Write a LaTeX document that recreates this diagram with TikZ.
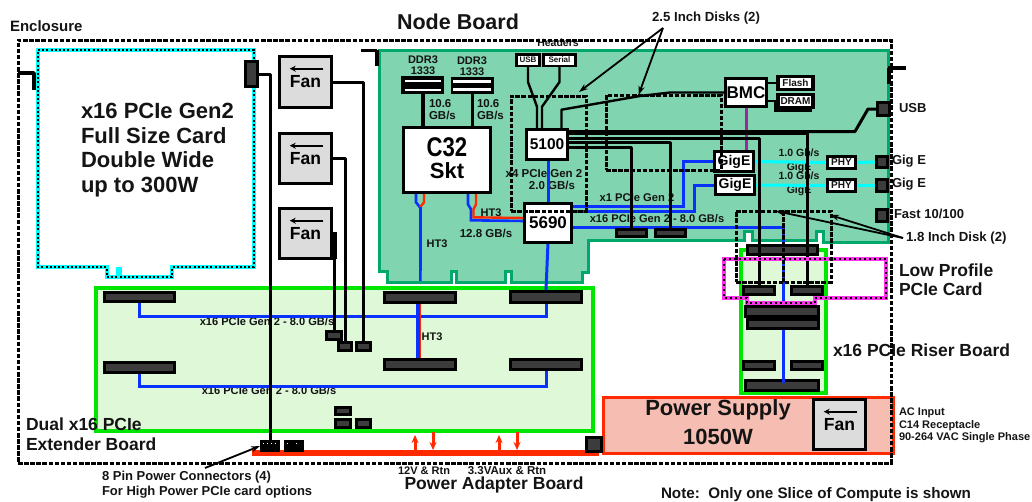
\documentclass[tikz,border=0pt]{standalone}
\usepackage{fontspec}
\setmainfont{Liberation Sans}
\usetikzlibrary{arrows.meta,calc}
\definecolor{boardline}{HTML}{00A86B}
\definecolor{boardfill}{HTML}{80D4B0}
\definecolor{extline}{HTML}{00E600}
\definecolor{extfill}{HTML}{DFF9D8}
\definecolor{psline}{HTML}{FF2A00}
\definecolor{psfill}{HTML}{F6BDB2}
\definecolor{fangray}{HTML}{DCDCDC}
\definecolor{busblue}{HTML}{0A32FF}
\definecolor{cardcyan}{HTML}{00FFFF}
\definecolor{lpmag}{HTML}{FF33EE}
\definecolor{bmcpurple}{HTML}{A0269B}
\definecolor{conngray}{HTML}{3C3C3C}
\definecolor{inktext}{HTML}{141414}
\pgfdeclarelayer{boardlayer}
\pgfdeclarelayer{labellayer}
\pgfdeclarelayer{wirelayer}
\pgfdeclarelayer{toplayer}
\pgfsetlayers{boardlayer,labellayer,wirelayer,main,toplayer}
\newcommand{\fs}[2]{\fontsize{#1}{#2}\selectfont}
% exact box: [style]{name}{x1}{y1}{x2}{y2}{text}
\newcommand{\bx}[7][]{%
  \pgfmathsetmacro\bxw{#5-#3}\pgfmathsetmacro\bxh{#6-#4}%
  \pgfmathsetmacro\bxx{(#5+#3)/2}\pgfmathsetmacro\bxy{(#6+#4)/2}%
  \node[boxbase,#1,minimum width=\bxw pt,minimum height=\bxh pt] (#2) at (\bxx,\bxy) {#7};}
% bordered box given by its outer edges
\newcommand{\bxb}[7][]{%
  \pgfmathsetmacro\bxw{#5-#3-3.4}\pgfmathsetmacro\bxh{#6-#4-3.4}%
  \pgfmathsetmacro\bxx{(#5+#3)/2}\pgfmathsetmacro\bxy{(#6+#4)/2}%
  \node[boxbase,whitebox,#1,minimum width=\bxw pt,minimum height=\bxh pt] (#2) at (\bxx,\bxy) {#7};}
% connector: black body, dark inner strip
\newcommand{\conn}[5]{%
  \bx[fill=black]{#1}{#2}{#3}{#4}{#5}{}%
  \fill[conngray] ({#2+2.6},{#3+2.8}) rectangle ({#4-2.6},{#5-2.8});}
\newcommand{\fan}[5]{%
  \bxb[fill=fangray,font=\bfseries\fs{17.5}{18}]{#1}{#2}{#3}{#4}{#5}{Fan}%
  \draw[fanarrow] ($(#1.north east)+(-8,12)$) -- ($(#1.north west)+(10,12)$);}
\begin{document}
\begin{tikzpicture}[x=1pt,y=-1pt,
  boxbase/.style={inner sep=0pt,outer sep=0pt,rectangle},
  whitebox/.style={draw=black,fill=white,line width=3.4pt},
  lbl/.style={inner sep=0pt,outer sep=0pt,text=inktext,font=\bfseries,align=left},
  wire/.style={draw=black,line width=3pt,line join=round},
  bluewire/.style={draw=busblue,line width=3pt,line join=miter},
  redwire/.style={draw=psline,line width=2.4pt},
  cyanwire/.style={draw=cardcyan,line width=3pt},
  dashedbox/.style={draw=black,line width=3pt,dash pattern=on 4.5pt off 1.6pt},
  fanarrow/.style={draw=black,line width=2pt,-{Stealth[length=6pt,width=6pt]}},
  callout/.style={draw=black,line width=1.8pt,-{Stealth[length=9pt,width=6pt]}},
  redarrow/.style={draw=psline,line width=3pt,-{Stealth[length=8pt,width=7pt]}},
]
\useasboundingbox (0,0) rectangle (1032,501);

%==== board outlines
\begin{pgfonlayer}{boardlayer}
\draw[draw=boardline,fill=boardfill,line width=3pt,line join=miter]
  (379,50) -- (888,50) -- (888,242) -- (823,242) -- (823,231) -- (816,231) -- (816,240) -- (752,240)
  -- (752,231) -- (744,231) -- (744,240) -- (588,240) -- (588,272) -- (582,272) -- (582,282) -- (511,282)
  -- (511,271) -- (505,271) -- (505,282) -- (456,282) -- (456,271) -- (451,271) -- (451,282) -- (387,282)
  -- (387,271) -- (379,271) -- cycle;
\bx[draw=extline,fill=extfill,line width=3.4pt]{extender}{96}{288}{593}{431}{}
\bx[draw=extline,fill=extfill,line width=3.4pt]{riser}{741}{250}{826}{393}{}
\bx[draw=psline,fill=psfill,line width=3pt]{psu}{603}{397}{893}{453}{}
% card
\draw[draw=cardcyan,line width=3.4pt,fill=white]
  (38,50) -- (254,50) -- (254,267) -- (172,267) -- (172,277) -- (107,277) -- (107,267) -- (38,267) -- cycle;
\fill[cardcyan] (116,267) rectangle (122,277);
\draw[draw=black,line width=1.4pt,dash pattern=on 2pt off 2.2pt]
  (38,50) -- (254,50) -- (254,267) -- (172,267) -- (172,277) -- (107,277) -- (107,267) -- (38,267) -- cycle;
\end{pgfonlayer}

%==== labels, under the wires
\begin{pgfonlayer}{labellayer}
\node[lbl,anchor=west,font=\bfseries\fs{15}{16}] (tEnc) at (10,26) {Enclosure};
\node[lbl,anchor=center,font=\bfseries\fs{21.5}{24}] (tNode) at (458,21.5) {Node Board};
\node[lbl,anchor=center,font=\bfseries\fs{13.2}{14}] (tDisks) at (706,18) {2.5 Inch Disks (2)};
\node[lbl,anchor=center,font=\bfseries\fs{10.5}{12}] (tHeaders) at (558,42.5) {Headers};
\node[lbl,anchor=west,font=\bfseries\fs{22}{24.7}] (tCard) at (81,150) {x16 PCIe Gen2\\Full Size Card\\Double Wide\\up to 300W};
\node[lbl,anchor=center,align=center,font=\bfseries\fs{11}{11}] (tDa) at (423,65) {DDR3\\1333};
\node[lbl,anchor=center,align=center,font=\bfseries\fs{11}{11}] (tDb) at (472,66) {DDR3\\1333};
\node[lbl,anchor=west,font=\bfseries\fs{11.5}{12}] (tGa) at (429,110) {10.6\\GB/s};
\node[lbl,anchor=west,font=\bfseries\fs{11.5}{12}] (tGb) at (477,110) {10.6\\GB/s};
\node[lbl,anchor=center,align=center,font=\bfseries\fs{11.5}{12}] (tX4) at (544,180) {x4 PCIe Gen 2\\\hspace*{16pt}2.0 GB/s};
\node[lbl,font=\bfseries\fs{11}{12}] (tHa) at (491,213) {HT3};
\node[lbl,font=\bfseries\fs{11.5}{12}] (tHb) at (486,233) {12.8 GB/s};
\node[lbl,font=\bfseries\fs{11}{12}] (tHc) at (437,244) {HT3};
\node[lbl,font=\bfseries\fs{11.2}{12}] (tX1) at (637,198) {x1 PCIe Gen 2};
\node[lbl,font=\bfseries\fs{11.1}{12}] (tX16a) at (657,219) {x16 PCIe Gen 2 - 8.0 GB/s};
\node[lbl,font=\bfseries\fs{11.1}{12}] (tX16b) at (267,322) {x16 PCIe Gen 2 - 8.0 GB/s};
\node[lbl,font=\bfseries\fs{11.1}{12}] (tX16c) at (269,391) {x16 PCIe Gen 2 - 8.0 GB/s};
\node[lbl,font=\bfseries\fs{11}{12}] (tHd) at (432,337) {HT3};
\node[lbl,align=center,font=\bfseries\fs{10.5}{14}] (tGiga) at (799,161) {1.0 Gb/s\\GigE};
\node[lbl,align=center,font=\bfseries\fs{10.5}{14}] (tGigb) at (799,184) {1.0 Gb/s\\GigE};
\node[lbl,anchor=west,font=\bfseries\fs{13}{14}] (tUSB) at (899,108) {USB};
\node[lbl,anchor=west,font=\bfseries\fs{13}{14}] (tGe1) at (892,161) {Gig E};
\node[lbl,anchor=west,font=\bfseries\fs{13}{14}] (tGe2) at (892,184) {Gig E};
\node[lbl,anchor=west,font=\bfseries\fs{13}{14}] (tFast) at (894,214) {Fast 10/100};
\node[lbl,anchor=west,font=\bfseries\fs{13.2}{14}] (t18) at (906,238) {1.8 Inch Disk (2)};
\node[lbl,anchor=west,font=\bfseries\fs{17.5}{19}] (tLP) at (899,279.5) {Low Profile\\PCIe Card};
\node[lbl,anchor=west,font=\bfseries\fs{17.5}{19}] (tRiser) at (833,350) {x16 PCIe Riser Board};
\node[lbl,anchor=west,font=\bfseries\fs{17.5}{20.5}] (tDual) at (26,434) {Dual x16 PCIe\\Extender Board};
\node[lbl,anchor=west,font=\bfseries\fs{13}{15}] (t8pin) at (102,484.5) {8 Pin Power Connectors (4)\\For High Power PCIe card options};
\node[lbl,font=\bfseries\fs{11}{12}] (t12v) at (424,471) {12V \& Rtn};
\node[lbl,font=\bfseries\fs{11.5}{12}] (t33v) at (507,471) {3.3VAux \& Rtn};
\node[lbl,font=\bfseries\fs{17.5}{20}] (tPA) at (494,485) {Power Adapter Board};
\node[lbl,anchor=west,font=\bfseries\fs{15.2}{16}] (tNote) at (661,494.5) {Note:\ \ Only one Slice of Compute is shown};
\node[lbl,align=center,font=\bfseries\fs{22}{29}] (tPS) at (718,422) {Power Supply\\1050W};
\node[lbl,anchor=west,font=\bfseries\fs{11}{12.7}] (tAC) at (899,425.5) {AC Input\\C14 Receptacle\\90-264 VAC Single Phase};
\end{pgfonlayer}

%==== boxes and connectors
\fan{fanA}{278}{55}{333}{109}
\fan{fanB}{278}{132}{333}{185}
\fan{fanC}{278}{207}{333}{260}
\fan{fanP}{812}{398}{867}{451}
\conn{cardPwr}{244}{60}{259}{88}
\conn{cpA}{325}{330}{343}{341}
\conn{cpB}{337}{341}{353}{352}
\conn{cpC}{355}{341}{372}{352}
\conn{cqA}{334}{406}{352}{416}
\conn{cqB}{334}{418}{352}{429}
\conn{cqC}{355}{418}{372}{429}
\conn{exA}{103}{291}{176}{303}
\conn{exB}{103}{361}{176}{374}
\conn{exC}{383}{291}{457}{304}
\conn{exD}{383}{358}{457}{371}
\conn{exE}{509}{290}{583}{304}
\conn{exF}{509}{358}{583}{371}
\conn{nA}{615}{228}{648}{238}
\conn{nB}{654}{228}{687}{238}
\conn{riTop}{746}{244}{819}{256}
\conn{riA}{742}{285}{776}{296}
\conn{riB}{790}{285}{824}{296}
\conn{riC}{744}{305}{820}{318}
\conn{riD}{746}{318}{820}{330}
\conn{riE}{742}{360}{776}{371}
\conn{riF}{790}{360}{824}{371}
\conn{riG}{744}{379}{820}{392}
\conn{usbP}{876}{101}{891}{117}
\conn{geP}{875}{155}{889}{169}
\conn{gfP}{875}{178}{889}{193}
\conn{fastP}{875}{208}{889}{223}
\conn{psConn}{585}{436}{603}{453}
\bx[fill=black]{pinA}{260}{440}{280}{452}{}
\bx[fill=black]{pinB}{284}{440}{304}{452}{}
\draw[white,line width=1pt,dash pattern=on 1pt off 3pt] (263,443) -- (278,443);
\draw[white,line width=1pt,dash pattern=on 1pt off 8pt] (287,443) -- (300,443);
% DIMMs
\bx[fill=black]{dimA}{401}{76}{444}{94}{}
\fill[white] (405,79.5) rectangle (441,82);
\fill[white] (405,88.5) rectangle (441,91);
\bx[fill=black]{dimB}{451}{77}{494}{94}{}
\fill[white] (453,80) rectangle (491,82.5);
\fill[white] (453,88) rectangle (491,90.5);
% chips
\bxb[font=\bfseries]{c32}{402}{126}{492}{194}{\begin{tabular}{@{}c@{}}\fs{27}{20}\scalebox{.82}[1]{C32}\\[2pt]\fs{22}{20}Skt\end{tabular}}
\bxb[font=\bfseries\fs{15.5}{16}]{b5100}{525}{128}{569}{161}{5100}
\bxb[font=\bfseries\fs{17}{17}]{b5690}{523}{202}{573}{244}{5690}
\bxb[font=\bfseries\fs{17}{17}]{bmc}{724}{77}{768}{108}{BMC}
\bx[fill=black]{usbH}{515}{53}{541}{67}{}
\bx[fill=white,font=\bfseries\fs{8}{8},text=inktext]{usbI}{518}{55.5}{538}{64.5}{USB}
\bx[fill=black]{serH}{542}{53}{577}{67}{}
\bx[fill=white,font=\bfseries\fs{8}{8},text=inktext]{serI}{545}{55.5}{574}{64.5}{Serial}
\bx[fill=black]{flashO}{776}{75}{815}{91}{}
\bx[fill=white,font=\bfseries\fs{10}{10},text=inktext]{flashI}{780}{78}{811}{88}{Flash}
\bx[fill=black]{dramL}{774}{100}{812}{112}{}
\bx[fill=black]{dramO}{776}{93}{815}{109}{}
\bx[fill=white,font=\bfseries\fs{10}{10},text=inktext]{dramI}{780}{96}{811}{106}{DRAM}
\bxb[line width=2.6pt,font=\bfseries\fs{14}{14}]{gigeA}{713}{150}{755}{173}{GigE}
\bxb[line width=2.6pt,font=\bfseries\fs{14}{14}]{gigeB}{714}{174}{756}{196}{GigE}
\bx[fill=black]{phyAo}{826}{155}{857}{170}{}
\bx[fill=white,font=\bfseries\fs{10}{10},text=inktext]{phyA}{829}{158}{854}{167}{PHY}
\bx[fill=black]{phyBo}{826}{178}{857}{193}{}
\bx[fill=white,font=\bfseries\fs{10}{10},text=inktext]{phyB}{829}{181}{854}{190}{PHY}

%==== power adapter
\begin{pgfonlayer}{wirelayer}
\bx[fill=psline]{padapter}{252}{450}{599}{456}{}
\coordinate (upA) at (415,450); \coordinate (upAe) at (415,435);
\coordinate (dnA) at (433,432); \coordinate (dnAe) at (433,450);
\coordinate (upB) at (499,450); \coordinate (upBe) at (499,435);
\coordinate (dnB) at (517,432); \coordinate (dnBe) at (517,450);
\draw[redarrow] (upA) -- (upAe);
\draw[redarrow] (dnA) -- (dnAe);
\draw[redarrow] (upB) -- (upBe);
\draw[redarrow] (dnB) -- (dnBe);

% memory
\draw[wire,line width=4pt] (dimA.south) -- (dimA.south |- c32.north);
\draw[wire] (dimB.south) -- (dimB.south |- c32.north);
% HT3 from socket, down to the extender
\draw[bluewire,line width=2.6pt] ($(c32.south)+(-31,0)$) -- ++(0,10) -- ++(4,5) coordinate (htA);
\draw[redwire] ($(c32.south)+(-23,0)$) -- ++(0,10) -- (htA);
\draw[bluewire] (htA) -- (htA |- tHc.center) -- ++(0,37) coordinate (htAe);
\draw[psline,line width=1pt] ($(htAe)+(1.2,-10)$) -- ++(0,10);
\draw[bluewire,line width=2.6pt] ($(c32.south)+(21,0)$) -- ++(0,12) -- ++(3,5) -- ++(0,11) -- (b5690.west |- 0,221);
\draw[redwire] ($(c32.south)+(29,0)$) -- ++(0,12) -- ++(-2.5,5) -- ++(0,8) -- (b5690.west |- 0,218);
% PCIe 5100-5690-extender
\draw[bluewire] (548,161) -- (548,202);
\draw[bluewire] (b5690.south) -- (exE.north);
\draw[bluewire] ($(b5690.east)+(0,-17)$) -- (683,206) -- (683,161.5) -- (gigeA.west);
\draw[bluewire] ($(b5690.east)+(0,-12)$) -- (694,211) -- (694,185) -- (gigeB.west);
\draw[bluewire] ($(b5690.east)+(0,4)$) -- (783,227) -- (783,383) coordinate (riBlue);
% extender
\draw[bluewire] (exA.south) -- ++(0,13) -| (exE.south);
\draw[bluewire] (exB.south) -- ++(0,12) -| (exF.south);
\draw[bluewire,line width=5pt] ([xshift=-2pt]exC.south) -- ([xshift=-2pt]exD.north);
\draw[psline,line width=1pt] ([xshift=0.5pt]exC.south) -- ([xshift=0.5pt]exD.north);
% cyan
\draw[cyanwire] (gigeA.east) -- (phyAo.west);
\draw[cyanwire] (phyAo.east) -- (geP.west);
\draw[cyanwire] (gigeB.east) -- (phyBo.west);
\draw[cyanwire] (phyBo.east) -- (gfP.west);
% BMC
\draw[bmcpurple,line width=3pt] (bmc.south) -- (bmc.south |- gigeA.north);
\draw[wire,line width=2.4pt] (bmc.east |- flashO.west) -- (flashO.west);
\draw[wire,line width=2.4pt] (bmc.east |- dramO.west) -- (dramO.west);
% headers
\draw[wire,line width=2.4pt] (usbH.south) -- ++(0,15) -- ($(b5100.north)+(-10,-23)$) -- ($(b5100.north)+(-10,0)$);
\draw[wire,line width=2.4pt] (serH.south) -- ++(0,15) -- ($(b5100.north)+(-5,-23)$) -- ($(b5100.north)+(-5,0)$);
% 5100 buses
\draw[wire,line width=2.4pt] ($(b5100.north)+(14.5,0)$) -- ++(0,-20) -- (640,96) -- (670,92.5) -- (bmc.west);
\draw[wire,line width=5pt] ($(b5100.east)+(0,-12)$) -- (807,132.5);
\draw[wire] (807,131.5) -- (855,131.5) -- (868,109) -- (usbP.west);
\draw[wire] ($(b5100.east)+(0,-2.5)$) -| (nB.north);
\draw[wire] ($(b5100.east)+(0,3)$) -| (nA.north);
% fans
\draw[wire] (fanA.east) -| (cpC.north);
\draw[wire] (fanB.east) -| (cpB.north);
\draw[wire] ($(fanC.east)+(0,0)$) -| (cpA.north);
\fill[black] (333,232) rectangle (337,259);
\draw[wire] (cardPwr.east) -| (pinA.north);
\end{pgfonlayer}

%==== things on top
\begin{pgfonlayer}{toplayer}
\draw[wire] ($(b5100.east)+(0,-6.5)$) -| (riA.north);
\draw[wire] (807,132) -- (807,285) coordinate (riBw);
\draw[bluewire] (riD.south) -- (riBlue);
% low profile card
\draw[draw=lpmag,line width=3.4pt] (724,259) -- (886,259) -- (886,298) -- (815,298) -- (815,303) -- (747,303) -- (747,298) -- (724,298) -- cycle;
\draw[draw=black,line width=1.2pt,dash pattern=on 2pt off 3pt] (724,259) -- (886,259) -- (886,298) -- (815,298) -- (815,303) -- (747,303) -- (747,298) -- (724,298) -- cycle;
% disks
\bx[dashedbox]{diskA}{511}{96}{586}{211}{}
\bx[dashedbox]{diskB}{606}{95}{721}{170}{}
\bx[dashedbox]{diskC}{736}{211}{831}{282}{}
\draw[dashedbox] (diskC.north) -- (diskC.south);
% enclosure
\bx[dashedbox]{enclosure}{18}{40}{891}{463}{}
% tabs
\draw[wire,line width=3.5pt] (18,73) -- (34,73) -- (34,90);
\draw[wire,line width=3pt] (361,50) -- (377,50);
\draw[wire,line width=4pt] (377,50) -- (377,66);
\draw[wire,line width=3.5pt] (888,68) -- (906,68);
\draw[wire,line width=3.5pt] (889,68) -- (889,84);
% callouts
\coordinate (cD) at (663,28);
\coordinate (cE) at (903,238);
\coordinate (cP) at (205,468);
\draw[callout] (cD) -- ($(diskA.north east)+(-7,-4)$);
\draw[callout] (cD) -- ($(diskB.north)+(-25,0)$);
\draw[callout] (cE) -- ($(diskC.north)+(-8,0)$);
\draw[callout] (cE) -- ($(diskC.north east)+(-1,4)$);
\draw[callout] (cP) -- (pinA.west);
\end{pgfonlayer}
\end{tikzpicture}
\end{document}
